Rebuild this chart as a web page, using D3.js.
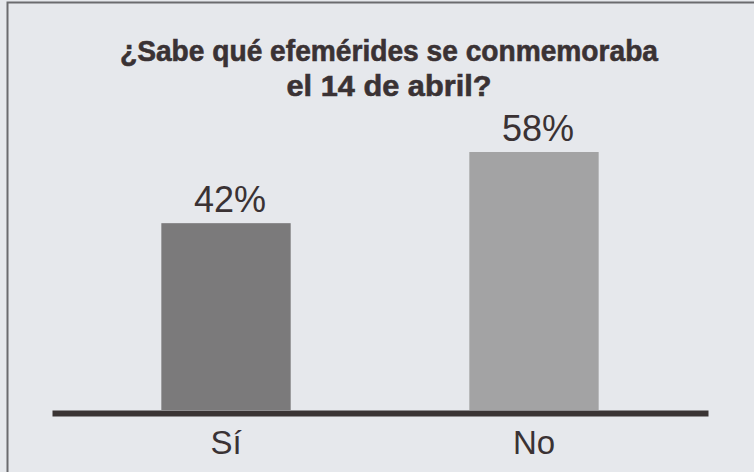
<!DOCTYPE html>
<html>
<head>
<meta charset="utf-8">
<script src="https://cdn.jsdelivr.net/npm/d3@7"></script>
<style>
  html, body { margin: 0; padding: 0; background: #e6e8ec; }
  svg { display: block; }
</style>
</head>
<body>
<div id="chart"></div>
<script>
var categories = ["Sí", "No"];
var values = [42, 58];
var valueLabels = ["42%", "58%"];
var titleLines = ["¿Sabe qué efemérides se conmemoraba", "el 14 de abril?"];
var barColors = ["#7b7a7b", "#a3a3a4"];

var width = 754, height = 472;
var textColor = "#3a3234";

var svg = d3.select("#chart")
    .append("svg")
    .attr("width", width)
    .attr("height", height);

// background and frame
svg.append("rect")
    .attr("width", width)
    .attr("height", height)
    .attr("fill", "#e6e8ec");

svg.append("path")
    .attr("d", "M7.5,472 L7.5,2.5 L754,2.5")
    .attr("fill", "none")
    .attr("stroke", "#6b6b6e")
    .attr("stroke-width", 2);

// scales
var x = d3.scaleBand()
    .domain(categories)
    .range([52, 708])
    .paddingInner(0.58)
    .paddingOuter(0.355);

var y = d3.scaleLinear()
    .domain([0, 58])
    .range([410, 152]);

// bars
svg.append("g")
    .selectAll("rect")
    .data(categories)
    .enter()
    .append("rect")
    .attr("x", function (d) { return x(d); })
    .attr("y", function (d, i) { return y(values[i]); })
    .attr("width", x.bandwidth())
    .attr("height", function (d, i) { return y(0) - y(values[i]); })
    .attr("fill", function (d, i) { return barColors[i]; });

// value labels
svg.append("g")
    .selectAll("text")
    .data(categories)
    .enter()
    .append("text")
    .attr("x", function (d) { return x(d) + x.bandwidth() / 2 + 4; })
    .attr("y", function (d, i) { return y(values[i]) - 11; })
    .attr("text-anchor", "middle")
    .attr("font-family", "'Liberation Sans', Arial, sans-serif")
    .attr("font-size", 36)
    .attr("fill", textColor)
    .text(function (d, i) { return valueLabels[i]; });

// baseline axis
var axis = svg.append("g")
    .attr("transform", "translate(0,413)")
    .call(d3.axisBottom(x).tickSize(0).tickSizeOuter(0).tickPadding(18));

axis.select(".domain")
    .attr("stroke", "#3a3434")
    .attr("stroke-width", 6);

axis.selectAll(".tick text")
    .attr("font-family", "'Liberation Sans', Arial, sans-serif")
    .attr("font-size", 33)
    .attr("fill", textColor)
    .attr("dy", "0.71em");

// title (condensed bold look)
var titleWidths = [538, 205];
var titleY = [61, 96];
svg.append("g")
    .selectAll("text")
    .data(titleLines)
    .enter()
    .append("text")
    .attr("x", 389)
    .attr("y", function (d, i) { return titleY[i]; })
    .attr("text-anchor", "middle")
    .attr("font-family", "'Liberation Sans', Arial, sans-serif")
    .attr("font-weight", "bold")
    .attr("font-size", 30)
    .attr("fill", textColor)
    .attr("stroke", textColor)
    .attr("stroke-width", 0.6)
    .attr("textLength", function (d, i) { return titleWidths[i]; })
    .attr("lengthAdjust", "spacingAndGlyphs")
    .text(function (d) { return d; });
</script>
</body>
</html>
